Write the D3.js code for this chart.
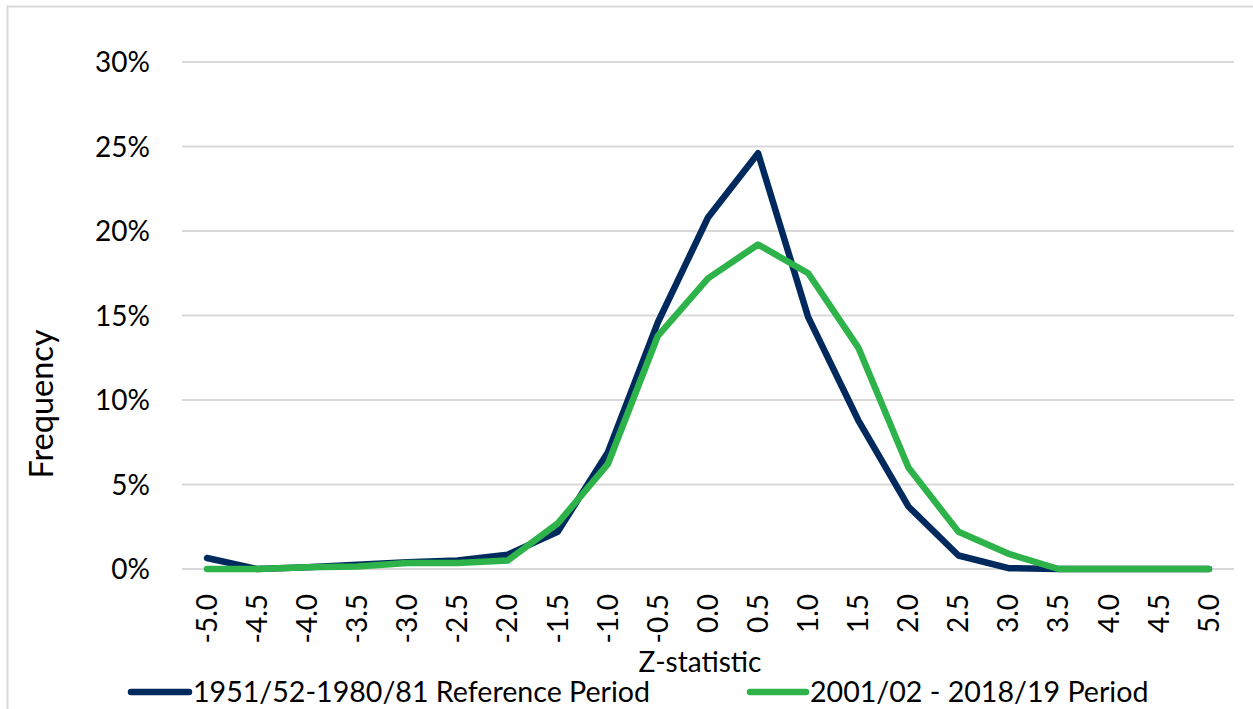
<!DOCTYPE html>
<html><head><meta charset="utf-8">
<script src="https://cdn.jsdelivr.net/npm/d3@7"></script>
<style>
html,body{margin:0;padding:0;background:#fff;}
svg text{font-family:Lato,"Open Sans",sans-serif;fill:#000;}
</style></head>
<body>
<svg id="c" width="1253" height="709"></svg>
<script>
const categories = ["-5.0","-4.5","-4.0","-3.5","-3.0","-2.5","-2.0","-1.5","-1.0","-0.5","0.0","0.5","1.0","1.5","2.0","2.5","3.0","3.5","4.0","4.5","5.0"];
const referencePeriod = [0.65,0.0,0.1,0.25,0.4,0.5,0.85,2.2,6.9,14.6,20.8,24.6,14.9,8.8,3.7,0.8,0.05,0,0,0,0];
const recentPeriod   = [0.0,0.0,0.1,0.15,0.35,0.35,0.5,2.7,6.2,13.8,17.2,19.2,17.5,13.1,6.0,2.2,0.9,0,0,0,0];
const yTicks = [0,5,10,15,20,25,30];
const seriesNames = ["1951/52-1980/81 Reference Period","2001/02 - 2018/19 Period"];
const seriesColors = ["#002A5E","#2EB34B"];

const svg = d3.select("#c");
// chart border
svg.append("path").attr("d","M7.5,709 V6.5 H1253").attr("fill","none").attr("stroke","#D9D9D9").attr("stroke-width",2);

const x = d3.scaleBand().domain(categories).range([182,1234]);
const y = d3.scaleLinear().domain([0,30]).range([569,62]);
const xc = c => x(c) + x.bandwidth()/2;

// gridlines
svg.append("g").selectAll("line").data(yTicks).join("line")
  .attr("x1",182).attr("x2",1234).attr("y1",d=>y(d)).attr("y2",d=>y(d))
  .attr("stroke","#D9D9D9").attr("stroke-width",2);

// y labels
const yAxis = d3.axisLeft(y).tickValues(yTicks).tickFormat(d=>d+"%").tickSize(0).tickPadding(0);
const gy = svg.append("g").attr("transform","translate(150,0)").call(yAxis);
gy.select(".domain").remove();
gy.selectAll("text").style("font-size","28px").style("font-family","Lato").attr("fill","#000").attr("dy","0.35em");

// x labels
const xAxis = d3.axisBottom(x).tickSize(0).tickPadding(0);
const gx = svg.append("g").attr("transform","translate(0,594)").call(xAxis);
gx.select(".domain").remove();
gx.selectAll("text").style("font-size","28px").style("font-family","Lato").attr("fill","#000")
  .attr("transform","rotate(-90)").attr("text-anchor","end").attr("x",0).attr("y",0).attr("dy","0.35em");

// axis titles
svg.append("text").attr("transform","translate(53,404) rotate(-90)").attr("text-anchor","middle")
  .style("font-size","32.5px").text("Frequency");
svg.append("text").attr("x",700).attr("y",672).attr("text-anchor","middle").style("font-size","28px").text("Z-statistic");

// lines
const line = d3.line().x((d,i)=>xc(categories[i])).y(d=>y(d));
[referencePeriod, recentPeriod].forEach((s,k)=>{
  svg.append("path").datum(s).attr("d",line).attr("fill","none")
    .attr("stroke",seriesColors[k]).attr("stroke-width",6.5)
    .attr("stroke-linejoin","round").attr("stroke-linecap","round");
});

// legend
const legendX = [[131,189,193],[750,806,810]];
seriesNames.forEach((n,k)=>{
  svg.append("line").attr("x1",legendX[k][0]).attr("x2",legendX[k][1]).attr("y1",692).attr("y2",692)
    .attr("stroke",seriesColors[k]).attr("stroke-width",6.5).attr("stroke-linecap","round");
  svg.append("text").attr("x",legendX[k][2]).attr("y",702).style("font-size","28.6px").text(n);
});
</script>
</body></html>
